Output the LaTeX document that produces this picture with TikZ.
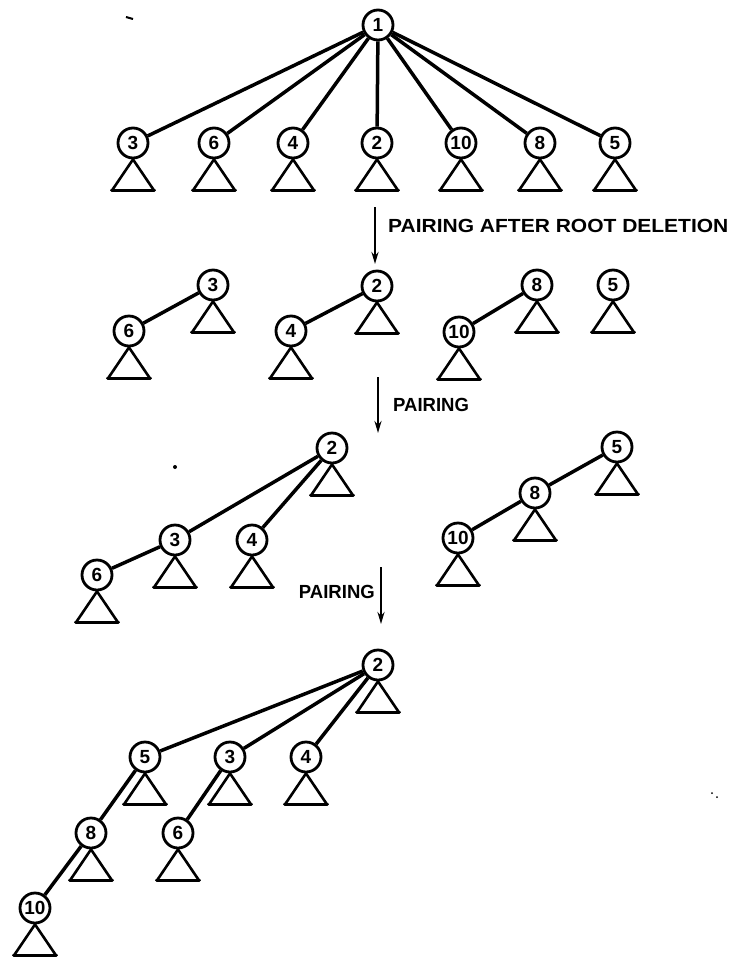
\documentclass[tikz,border=0pt]{standalone}
\usepackage{fontspec}
\setmainfont{Liberation Sans}
\usetikzlibrary{arrows.meta}
\newcommand\mysubtree[1]{%
  \draw[tri] (#1.south) -- ++(-21,31) -- ++(42,0) -- cycle;
  \draw[tribase] ([xshift=-21pt,yshift=-31pt]#1.south) -- ++(42,0);}
\begin{document}
\begin{tikzpicture}[x=1pt,y=-1pt,
  nd/.style={circle,draw,line width=2.8pt,minimum size=30pt,inner sep=0pt,font=\fontsize{19}{19}\selectfont\bfseries},
  edge/.style={line width=3.5pt},
  tri/.style={line width=2.6pt,line join=round},
  tribase/.style={line width=3.8pt,line cap=round},
  arr/.style={line width=2.4pt,-{Stealth[length=12pt,width=7pt]}},
  lbl/.style={font=\fontsize{19}{19}\selectfont\bfseries,inner sep=0pt}]
\useasboundingbox[fill=white] (0,0) rectangle (734,959);

% ---------- row 1 ----------
\node[nd] (a1) at (378,25) {1};
\node[nd] (a3) at (133,143) {3};
\node[nd] (a6) at (214,143) {6};
\node[nd] (a4) at (293,143) {4};
\node[nd] (a2) at (377,143) {2};
\node[nd] (a10) at (461,143) {10};
\node[nd] (a8) at (540,143) {8};
\node[nd] (a5) at (615,143) {5};
\foreach \n in {a3,a6,a4,a2,a10,a8,a5}{\draw[edge] (a1) -- (\n); \mysubtree{\n}}

% arrow 1
\coordinate (p1s) at (375,207);
\coordinate (p1e) at (375,264);
\draw[arr] (p1s) -- (p1e);
\node[lbl,anchor=west] (t1) at (388,226) {\scalebox{1.105}[1]{PAIRING AFTER ROOT DELETION}};

% ---------- row 2 ----------
\node[nd] (b3) at (213,285) {3};
\node[nd] (b2) at (377,286) {2};
\node[nd] (b8) at (537,285) {8};
\node[nd] (b5) at (613,285) {5};
\node[nd] (b6) at (129,331) {6};
\node[nd] (b4) at (291,331) {4};
\node[nd] (b10) at (459,332) {10};
\draw[edge] (b3) -- (b6);
\draw[edge] (b2) -- (b4);
\draw[edge] (b8) -- (b10);
\foreach \n in {b3,b2,b8,b5,b6,b4,b10}{\mysubtree{\n}}

% arrow 2
\coordinate (p2s) at (378,377);
\coordinate (p2e) at (378,433);
\draw[arr] (p2s) -- (p2e);
\node[lbl,anchor=west] (t2) at (393,405) {\scalebox{0.975}[1]{PAIRING}};

% ---------- row 3 ----------
\node[nd] (c2) at (332,448) {2};
\node[nd] (c3) at (175,540) {3};
\node[nd] (c4) at (252,540) {4};
\node[nd] (c6) at (97,575) {6};
\node[nd] (c5) at (617,447) {5};
\node[nd] (c8) at (535,493) {8};
\node[nd] (c10) at (458,538) {10};
\draw[edge] (c2) -- (c3);
\draw[edge] (c2) -- (c4);
\draw[edge] (c3) -- (c6);
\draw[edge] (c5) -- (c8);
\draw[edge] (c8) -- (c10);
\foreach \n in {c2,c3,c4,c6,c5,c8,c10}{\mysubtree{\n}}

% arrow 3
\coordinate (p3s) at (381,567);
\coordinate (p3e) at (381,624);
\draw[arr] (p3s) -- (p3e);
\node[lbl,anchor=east] (t3) at (375,592) {\scalebox{0.975}[1]{PAIRING}};

% ---------- row 4 ----------
\node[nd] (d2) at (378,665) {2};
\node[nd] (d5) at (145,757) {5};
\node[nd] (d3) at (230,757) {3};
\node[nd] (d4) at (306,757) {4};
\node[nd] (d8) at (91,833) {8};
\node[nd] (d6) at (178,833) {6};
\node[nd] (d10) at (35,908) {10};
\draw[edge] (d2) -- (d5);
\draw[edge] (d2) -- (d3);
\draw[edge] (d2) -- (d4);
\draw[edge] (d5) -- (d8);
\draw[edge] (d3) -- (d6);
\draw[edge] (d8) -- (d10);
\foreach \n in {d2,d5,d3,d4,d8,d6,d10}{\mysubtree{\n}}

% scan specks
\draw[line width=2pt] (126,17) -- (133,19);
\fill (175,467) circle (2pt);
\fill (712,793) circle (1pt);
\fill (717,797) circle (1pt);
\end{tikzpicture}
\end{document}
